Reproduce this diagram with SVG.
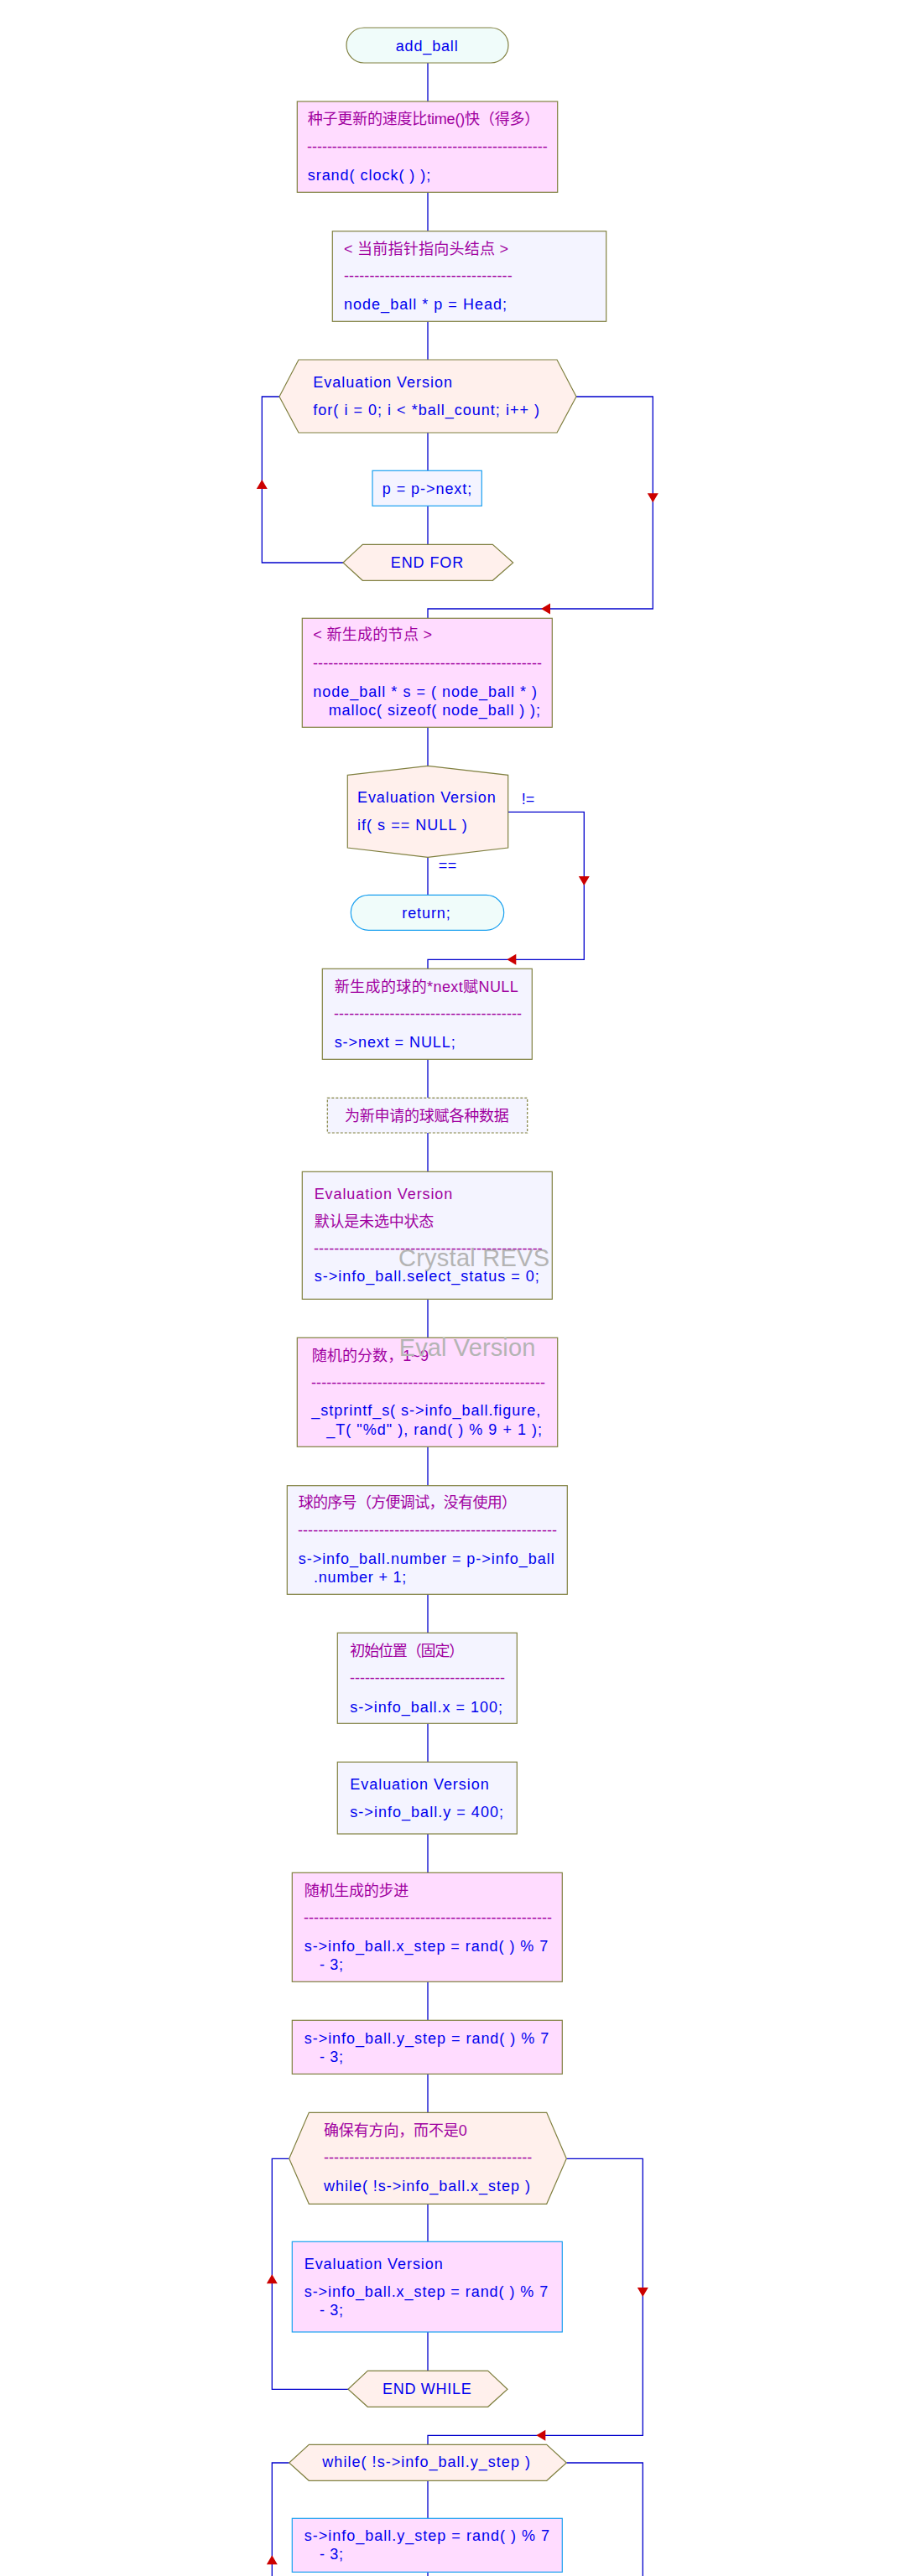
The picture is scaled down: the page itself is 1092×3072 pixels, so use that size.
<svg xmlns="http://www.w3.org/2000/svg" width="1092" height="3072" viewBox="0 0 1092 3072">
<style>
text{font-family:"Liberation Sans","Noto Sans CJK SC",sans-serif;font-size:18px}
.c{fill:#0000ee}
.m{fill:#a000a0}
.wm{fill:#b4b4b4;font-size:29px}
.pk{fill:#ffdcff;stroke:#808040;stroke-width:1.2}
.lv{fill:#f4f4ff;stroke:#808040;stroke-width:1.2}
.hx{fill:#fff0ec;stroke:#808040;stroke-width:1.2}
.tm{fill:#f0fcfa;stroke:#808040;stroke-width:1.2}
.bl{stroke:#1aa0f0}
.ln{fill:none;stroke:#0000cc;stroke-width:1.3}
.ah{fill:#cc0000}
</style>
<defs>
<path id="ah" d="M0,0 L-6.5,-11 L6.5,-11 Z"/>
</defs>
<rect x="0" y="0" width="1092" height="3072" fill="#ffffff"/>

<g id="connectors">
<path class="ln" d="M510,75 V121"/>
<path class="ln" d="M510,229 V276"/>
<path class="ln" d="M510,383 V429"/>
<path class="ln" d="M510,516 V561"/>
<path class="ln" d="M510,603 V649"/>
<path class="ln" d="M409,671 H312.3 V473 H333"/>
<path class="ln" d="M687,473 H778.3 V726 H510 V737"/>
<path class="ln" d="M510,867 V913"/>
<path class="ln" d="M605.7,968.3 H696.3 V1144.3 H510 V1155"/>
<path class="ln" d="M510,1022 V1067"/>
<path class="ln" d="M510,1263 V1309"/>
<path class="ln" d="M510,1351 V1397"/>
<path class="ln" d="M510,1549 V1595"/>
<path class="ln" d="M510,1725 V1772"/>
<path class="ln" d="M510,1901 V1947"/>
<path class="ln" d="M510,2055 V2101"/>
<path class="ln" d="M510,2187 V2233"/>
<path class="ln" d="M510,2363 V2409"/>
<path class="ln" d="M510,2473 V2519"/>
<path class="ln" d="M510,2628 V2673"/>
<path class="ln" d="M510,2781 V2827"/>
<path class="ln" d="M415,2849.3 H324.3 V2574.3 H344.7"/>
<path class="ln" d="M675.3,2574.3 H766.3 V2904.3 H510 V2915"/>
<path class="ln" d="M510,2958 V3003"/>
<path class="ln" d="M510,3067 V3072"/>
<path class="ln" d="M344.7,2937 H324.3 V3072"/>
<path class="ln" d="M675.3,2937 H766.3 V3072"/>
<use href="#ah" class="ah" transform="translate(312.3,572) rotate(180)"/>
<use href="#ah" class="ah" transform="translate(778.3,599.3)"/>
<use href="#ah" class="ah" transform="translate(645,726) rotate(90)"/>
<use href="#ah" class="ah" transform="translate(696.3,1056)"/>
<use href="#ah" class="ah" transform="translate(604.3,1144.3) rotate(90)"/>
<use href="#ah" class="ah" transform="translate(324.3,2712.3) rotate(180)"/>
<use href="#ah" class="ah" transform="translate(766.3,2739)"/>
<use href="#ah" class="ah" transform="translate(639.3,2904.3) rotate(90)"/>
<use href="#ah" class="ah" transform="translate(324.3,3047.3) rotate(180)"/>
<text class="c" x="621.7" y="959.3" textLength="15.6" lengthAdjust="spacing">!=</text>
<text class="c" x="522.7" y="1038" textLength="21.6" lengthAdjust="spacing">==</text>
</g>

<g id="n_start">
<rect class="tm" x="413" y="33" width="193" height="42" rx="21"/>
<text class="c" x="471.7" y="60.7" textLength="74" lengthAdjust="spacing">add_ball</text>
</g>

<g id="n_srand">
<rect class="pk" x="354.3" y="121" width="310.4" height="108.3"/>
<text class="m" x="366.7" y="148" textLength="276.6" lengthAdjust="spacing">种子更新的速度比time()快（得多）</text>
<text class="m" x="366" y="181" textLength="286.7" lengthAdjust="spacing">------------------------------------------------</text>
<text class="c" x="366.7" y="215" textLength="146.6" lengthAdjust="spacing">srand( clock( ) );</text>
</g>

<g id="n_head">
<rect class="lv" x="396.3" y="275.7" width="326.4" height="107.6"/>
<text class="m" x="410" y="303.3" textLength="196" lengthAdjust="spacing">&lt; 当前指针指向头结点 &gt;</text>
<text class="m" x="410" y="335" textLength="200.7" lengthAdjust="spacing">---------------------------------</text>
<text class="c" x="410" y="369.3" textLength="194" lengthAdjust="spacing">node_ball * p = Head;</text>
</g>

<g id="n_for">
<polygon class="hx" points="333,473 356,429 664,429 687,473 664,516 356,516"/>
<text class="c" x="373.3" y="461.7" textLength="165.7" lengthAdjust="spacing">Evaluation Version</text>
<text class="c" x="373.3" y="495" textLength="269.7" lengthAdjust="spacing">for( i = 0; i &lt; *ball_count; i++ )</text>
</g>

<g id="n_next">
<rect class="lv bl" x="444" y="561.3" width="130.3" height="42"/>
<text class="c" x="455.7" y="589" textLength="106.6" lengthAdjust="spacing">p = p-&gt;next;</text>
</g>

<g id="n_endfor">
<polygon class="hx" points="409,671 432.3,649.3 587.3,649.3 611.7,671 587.3,692.3 432.3,692.3"/>
<text class="c" x="465.7" y="676.7" textLength="86.6" lengthAdjust="spacing">END FOR</text>
</g>

<g id="n_malloc">
<rect class="pk" x="360.3" y="737.3" width="298" height="130"/>
<text class="m" x="373.3" y="763.3" textLength="141.7" lengthAdjust="spacing">&lt; 新生成的节点 &gt;</text>
<text class="m" x="373" y="797.3" textLength="273" lengthAdjust="spacing">---------------------------------------------</text>
<text class="c" x="373.3" y="831" textLength="266.7" lengthAdjust="spacing">node_ball * s = ( node_ball * )</text>
<text class="c" x="391.7" y="853.3" textLength="252.3" lengthAdjust="spacing">malloc( sizeof( node_ball ) );</text>
</g>

<g id="n_if">
<path class="hx" d="M414.3,924.3 L510,913.3 L605.7,924.3 L605.7,1011 L510,1022.3 L414.3,1011 Z"/>
<text class="c" x="426" y="956.7" textLength="164.7" lengthAdjust="spacing">Evaluation Version</text>
<text class="c" x="426" y="990" textLength="130.7" lengthAdjust="spacing">if( s == NULL )</text>
</g>

<g id="n_return">
<rect class="tm bl" x="418.3" y="1067.3" width="182.4" height="42" rx="21"/>
<text class="c" x="479.3" y="1095" textLength="57.4" lengthAdjust="spacing">return;</text>
</g>

<g id="n_nextnull">
<rect class="lv" x="384.3" y="1155.3" width="250" height="108"/>
<text class="m" x="398.7" y="1183.3" textLength="219" lengthAdjust="spacing">新生成的球的*next赋NULL</text>
<text class="m" x="398" y="1215.3" textLength="224" lengthAdjust="spacing">-------------------------------------</text>
<text class="c" x="398.7" y="1249.3" textLength="144" lengthAdjust="spacing">s-&gt;next = NULL;</text>
</g>

<g id="n_note">
<rect class="lv" x="390.3" y="1309.3" width="238.4" height="41.7" stroke-dasharray="3 2"/>
<text class="m" x="411" y="1337.3" textLength="195.7" lengthAdjust="spacing">为新申请的球赋各种数据</text>
</g>

<g id="n_select">
<rect class="lv" x="360.3" y="1397.3" width="298" height="152"/>
<text class="m" x="374.7" y="1430" textLength="164.6" lengthAdjust="spacing">Evaluation Version</text>
<text class="m" x="374.7" y="1462.7" textLength="142.6" lengthAdjust="spacing">默认是未选中状态</text>
<text class="m" x="374" y="1495" textLength="272.7" lengthAdjust="spacing">---------------------------------------------</text>
<text class="c" x="374.7" y="1528.3" textLength="268" lengthAdjust="spacing">s-&gt;info_ball.select_status = 0;</text>
</g>

<g id="n_figure">
<rect class="pk" x="354.3" y="1595.3" width="310.4" height="130"/>
<text class="m" x="371.7" y="1623.3" textLength="139.3" lengthAdjust="spacing">随机的分数，1~9</text>
<text class="m" x="371" y="1655" textLength="279" lengthAdjust="spacing">----------------------------------------------</text>
<text class="c" x="371.3" y="1688.3" textLength="273" lengthAdjust="spacing">_stprintf_s( s-&gt;info_ball.figure,</text>
<text class="c" x="389.3" y="1710.7" textLength="256.7" lengthAdjust="spacing">_T( "%d" ), rand( ) % 9 + 1 );</text>
</g>

<g id="n_number">
<rect class="lv" x="342.3" y="1771.7" width="334" height="129.6"/>
<text class="m" x="355.7" y="1798.3" textLength="260.3" lengthAdjust="spacing">球的序号（方便调试，没有使用）</text>
<text class="m" x="355" y="1831" textLength="309" lengthAdjust="spacing">---------------------------------------------------</text>
<text class="c" x="355.7" y="1865" textLength="305" lengthAdjust="spacing">s-&gt;info_ball.number = p-&gt;info_ball</text>
<text class="c" x="374" y="1886.7" textLength="110.3" lengthAdjust="spacing">.number + 1;</text>
</g>

<g id="n_x">
<rect class="lv" x="402.3" y="1947.3" width="214" height="108"/>
<text class="m" x="417.3" y="1975" textLength="136" lengthAdjust="spacing">初始位置（固定）</text>
<text class="m" x="417" y="2006.7" textLength="185" lengthAdjust="spacing">-------------------------------</text>
<text class="c" x="417.3" y="2041.7" textLength="181.7" lengthAdjust="spacing">s-&gt;info_ball.x = 100;</text>
</g>

<g id="n_y">
<rect class="lv" x="402.3" y="2101.3" width="214" height="85.7"/>
<text class="c" x="417.3" y="2134" textLength="165.4" lengthAdjust="spacing">Evaluation Version</text>
<text class="c" x="417.3" y="2166.7" textLength="182.7" lengthAdjust="spacing">s-&gt;info_ball.y = 400;</text>
</g>

<g id="n_xstep">
<rect class="pk" x="348.3" y="2233.3" width="322" height="130"/>
<text class="m" x="362.7" y="2261" textLength="124.6" lengthAdjust="spacing">随机生成的步进</text>
<text class="m" x="362" y="2293.3" textLength="296" lengthAdjust="spacing">-------------------------------------------------</text>
<text class="c" x="362.7" y="2326.7" textLength="290.6" lengthAdjust="spacing">s-&gt;info_ball.x_step = rand( ) % 7</text>
<text class="c" x="381" y="2349" textLength="28" lengthAdjust="spacing">- 3;</text>
</g>

<g id="n_ystep">
<rect class="pk" x="348.3" y="2409.3" width="322" height="64"/>
<text class="c" x="362.7" y="2436.7" textLength="291.6" lengthAdjust="spacing">s-&gt;info_ball.y_step = rand( ) % 7</text>
<text class="c" x="381" y="2459.3" textLength="28" lengthAdjust="spacing">- 3;</text>
</g>

<g id="n_while1">
<polygon class="hx" points="344.7,2574.3 368.3,2519.3 651.7,2519.3 675.3,2574.3 651.7,2628.3 368.3,2628.3"/>
<text class="m" x="386" y="2546.7" textLength="170.7" lengthAdjust="spacing">确保有方向，而不是0</text>
<text class="m" x="386" y="2579.3" textLength="248.3" lengthAdjust="spacing">-----------------------------------------</text>
<text class="c" x="386" y="2612.7" textLength="246" lengthAdjust="spacing">while( !s-&gt;info_ball.x_step )</text>
</g>

<g id="n_xstep2">
<rect class="pk bl" x="348.3" y="2673.3" width="322" height="107.7"/>
<text class="c" x="362.7" y="2706" textLength="165" lengthAdjust="spacing">Evaluation Version</text>
<text class="c" x="362.7" y="2739" textLength="290.6" lengthAdjust="spacing">s-&gt;info_ball.x_step = rand( ) % 7</text>
<text class="c" x="381" y="2760.7" textLength="28" lengthAdjust="spacing">- 3;</text>
</g>

<g id="n_endwhile">
<polygon class="hx" points="415,2849.3 438.3,2827.3 581.7,2827.3 605,2849.3 581.7,2870.3 438.3,2870.3"/>
<text class="c" x="456" y="2855" textLength="105.7" lengthAdjust="spacing">END WHILE</text>
</g>

<g id="n_while2">
<polygon class="hx" points="344.7,2937 368.3,2915.3 651.7,2915.3 675.3,2937 651.7,2958.3 368.3,2958.3"/>
<text class="c" x="384.3" y="2942.3" textLength="247.7" lengthAdjust="spacing">while( !s-&gt;info_ball.y_step )</text>
</g>

<g id="n_ystep2">
<rect class="pk bl" x="348.3" y="3003.3" width="322" height="64"/>
<text class="c" x="362.7" y="3030" textLength="292.3" lengthAdjust="spacing">s-&gt;info_ball.y_step = rand( ) % 7</text>
<text class="c" x="381" y="3052.3" textLength="28" lengthAdjust="spacing">- 3;</text>
</g>

<g id="watermark">
<text class="wm" x="475" y="1510" textLength="180" lengthAdjust="spacing">Crystal REVS</text>
<text class="wm" x="475.7" y="1616.7" textLength="162.6" lengthAdjust="spacing">Eval Version</text>
</g>
</svg>
